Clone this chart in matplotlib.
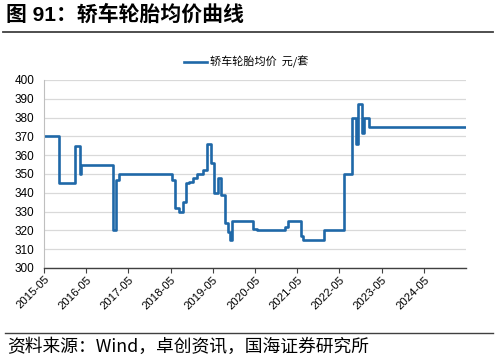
import pandas as pd
import matplotlib
matplotlib.use('Agg')
import matplotlib.pyplot as plt
import matplotlib.dates as mdates
from matplotlib.lines import Line2D

plt.rcParams['font.family'] = ['Liberation Sans', 'Noto Sans CJK SC', 'DejaVu Sans']

# 价格变动点（元/套），阶梯线
dates = ['2015-05-01', '2015-09-08', '2016-01-22', '2016-03-08', '2016-03-15',
         '2016-12-16', '2017-01-15', '2017-02-04', '2018-05-10', '2018-06-05',
         '2018-07-10', '2018-08-14', '2018-09-12', '2018-10-10', '2018-11-14',
         '2018-12-13', '2019-02-09', '2019-03-08', '2019-04-15', '2019-05-11',
         '2019-06-12', '2019-07-15', '2019-08-15', '2019-09-10', '2019-09-28',
         '2019-10-18', '2020-04-15', '2020-05-15', '2021-01-15', '2021-02-06',
         '2021-06-03', '2021-06-21', '2021-12-21', '2022-06-06', '2022-08-15',
         '2022-09-20', '2022-10-05', '2022-11-10', '2022-11-28', '2023-01-12',
         '2025-05-01']
prices = [370, 345, 365, 350, 355,
          320, 347, 350, 347, 332,
          330, 335, 345, 346, 348,
          350, 352, 366, 356, 340,
          348, 339, 324, 319, 315,
          325, 321, 320, 322, 325,
          317, 315, 320, 350, 380,
          366, 387, 372, 380, 375,
          375]
tick_years = list(range(2015, 2025))

title = '图 91：轿车轮胎均价曲线'
series_name = '轿车轮胎均价  元/套'
source = '资料来源：Wind，卓创资讯，国海证券研究所'

x = pd.to_datetime(dates)

fig = plt.figure(figsize=(4.98, 3.61), dpi=100)
ax = fig.add_axes([44/498, 1-268/361, (466-44)/498, (268-80)/361])

ax.plot(x, prices, drawstyle='steps-post', color='#1f68a8', lw=1.9,
        label=series_name)

ax.set_ylim(300, 400)
ax.set_yticks(range(300, 401, 10))
ax.set_xlim(pd.Timestamp('2015-05-01'), pd.Timestamp('2025-05-01'))
ax.set_xticks([pd.Timestamp(f'{y}-05-01') for y in tick_years])
ax.xaxis.set_major_formatter(mdates.DateFormatter('%Y-%m'))

ax.grid(axis='y', color='#d9d9d9', lw=0.9)
ax.set_axisbelow(True)
for s in ['top', 'right']:
    ax.spines[s].set_visible(False)
ax.spines['left'].set_color('#bfbfbf')
ax.spines['bottom'].set_color('#404040')
ax.spines['bottom'].set_linewidth(1.0)

ax.tick_params(axis='y', length=0, pad=7, labelsize=8.5, colors='#000000')
ax.tick_params(axis='x', length=3.5, width=0.8, color='#404040', labelsize=8.2, pad=1)
for lbl in ax.get_xticklabels():
    lbl.set_rotation(45)
    lbl.set_ha('right')
    lbl.set_rotation_mode('anchor')

leg = ax.legend(loc='center left', bbox_to_anchor=(178/498, 1-62/361),
                bbox_transform=fig.transFigure, frameon=False, borderpad=0,
                handlelength=2.1, handletextpad=0.3,
                prop={'family': ['Noto Sans CJK SC', 'DejaVu Sans'], 'size': 8})

fig.text(6/498, 1-15/361, title, fontsize=15, fontweight='bold',
         family=['Liberation Sans', 'Noto Sans CJK SC'], va='center', ha='left')
fig.add_artist(Line2D([3/498, 493/498], [1-31.7/361, 1-31.7/361],
                      transform=fig.transFigure, color='#404040', lw=1.3))
fig.add_artist(Line2D([5/498, 493/498], [1-332.7/361, 1-332.7/361],
                      transform=fig.transFigure, color='#404040', lw=1.0))
fig.text(7/498, 1-347/361, source, fontsize=12.8,
         family=['Noto Sans CJK SC', 'Liberation Sans'], va='center', ha='left')

fig.savefig('out.png', dpi=100)
